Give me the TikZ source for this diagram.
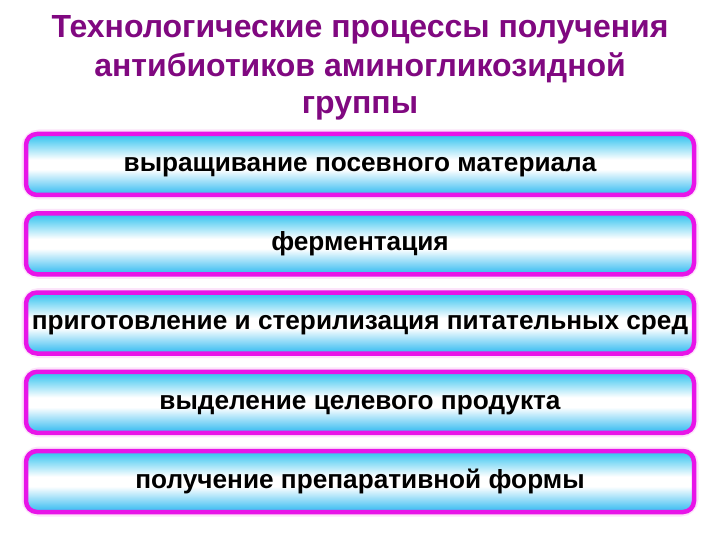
\documentclass[tikz,border=0pt]{standalone}
\usepackage{fontspec}
\setmainfont{Liberation Sans}
\definecolor{titlec}{RGB}{128,8,128}
\definecolor{framec}{RGB}{232,20,232}
\definecolor{cyanc}{RGB}{62,198,240}
\definecolor{cyanb}{RGB}{66,192,242}
\definecolor{haloc}{RGB}{252,228,250}
\pgfdeclareverticalshading{boxshade}{100bp}{color(0bp)=(cyanb); color(27bp)=(cyanb); color(46bp)=(white); color(54bp)=(white); color(73bp)=(cyanc); color(100bp)=(cyanc)}
\begin{document}
\begin{tikzpicture}[x=1pt,y=-1pt,
  stepbox/.style={rectangle, rounded corners=11pt, draw=framec, line width=4.5pt,
    shading=boxshade, minimum width=668pt, minimum height=61pt, inner sep=0pt,
    text height=13.6pt, text depth=0pt,
    font=\fontsize{26.2}{30}\selectfont\bfseries, text=black},
  titletext/.style={font=\fontsize{32}{38}\selectfont\bfseries, text=titlec, inner sep=0pt, anchor=base}]
\useasboundingbox (0,0) rectangle (720,540);
\fill[white] (0,0) rectangle (720,540);
\node[titletext] (t1) at (360,38) {Технологические процессы получения};
\node[titletext] (t2) at (360,77) {антибиотиков аминогликозидной};
\node[titletext] (t3) at (360,114) {группы};
\foreach \y/\n/\t in {164.5/b1/{выращивание посевного материала},
                     243.8/b2/{ферментация},
                     323.0/b3/{приготовление и стерилизация питательных сред},
                     402.3/b4/{выделение целевого продукта},
                     481.5/b5/{получение препаративной формы}}{
  \draw[haloc, line width=9pt, rounded corners=13pt] (26,\y-30.5) rectangle (694,\y+30.5);
  \node[stepbox] (\n) at (360,\y) {\t};
}
\end{tikzpicture}
\end{document}
